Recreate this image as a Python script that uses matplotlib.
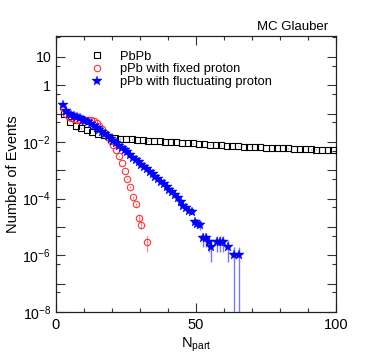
import numpy as np
import matplotlib
matplotlib.use("Agg")
import matplotlib.pyplot as plt
from matplotlib.lines import Line2D
from matplotlib.ticker import FixedLocator, FixedFormatter, NullFormatter

plt.rcParams['font.family'] = ['Liberation Sans', 'DejaVu Sans']
plt.rcParams['mathtext.fontset'] = 'custom'
plt.rcParams['mathtext.rm'] = 'Liberation Sans'
plt.rcParams['mathtext.it'] = 'Liberation Sans'

# ---------------- data ----------------
n_events = 1.0e6

pbpb_x = [3, 5, 7, 9, 11, 13, 15, 17, 19, 21, 23, 25, 27, 29, 31, 33, 35, 37, 39, 41,
          43, 45, 47, 49, 51, 53, 55, 57, 59, 61, 63, 65, 67, 69, 71, 73, 75, 77, 79, 81,
          83, 85, 87, 89, 91, 93, 95, 97, 99]
pbpb_y = [0.10, 0.049, 0.036, 0.030, 0.026, 0.022, 0.019, 0.017, 0.015, 0.014,
          0.0132, 0.0127, 0.0123, 0.0119, 0.0115, 0.0112, 0.0108, 0.0106, 0.0102, 0.0100,
          0.0097, 0.0094, 0.0091, 0.0089, 0.0087, 0.0084, 0.0081, 0.0079, 0.0076, 0.0073,
          0.0072, 0.0070, 0.0068, 0.0068, 0.0066, 0.0065, 0.0063, 0.0062, 0.0061, 0.0060,
          0.0059, 0.0058, 0.0056, 0.0056, 0.0055, 0.0054, 0.0053, 0.0052, 0.0051]

fixed_x = [2.5, 3.5, 4.5, 5.5, 6.5, 7.5, 8.5, 9.5, 10.5, 11.5, 12.5, 13.5, 14.5, 15.5,
           16.5, 17.5, 18.5, 19.5, 20.5, 21.5, 22.5, 23.5, 24.5, 25.5, 26.5, 27.5, 28.5,
           29.5, 30.5, 32.5]
fixed_y = [0.16, 0.095, 0.078, 0.068, 0.063, 0.060, 0.059, 0.059, 0.060, 0.060, 0.058,
           0.054, 0.047, 0.038, 0.028, 0.021, 0.015, 0.0107, 0.0076, 0.0051, 0.0031,
           0.0018, 9.5e-4, 5.1e-4, 2.6e-4, 1.1e-4, 6.3e-5, 2.1e-5, 1.2e-5, 3e-6]

fluct_x = [2.5, 3.5, 4.5, 5.5, 6.5, 7.5, 8.5, 9.5, 10.5, 11.5, 12.5, 13.5, 14.5, 15.5,
           16.5, 17.5, 18.5, 19.5, 20.5, 21.5, 22.5, 23.5, 24.5, 25.5, 26.5, 27.5, 28.5,
           29.5, 30.5, 31.5, 32.5, 33.5, 34.5, 35.5, 36.5, 37.5, 38.5, 39.5, 40.5, 41.5,
           42.5, 43.5, 44.5, 45.5, 46.5, 47.5, 48.5, 49.5, 50.5, 51.5, 52.5, 53.5, 54.5,
           55.5, 57.5, 58.5, 59.5, 61.5, 63.5, 65.5]
fluct_y = [0.195, 0.12, 0.10, 0.089, 0.081, 0.074, 0.068, 0.062, 0.055, 0.049, 0.044,
           0.038, 0.032, 0.027, 0.023, 0.019, 0.0158, 0.0129, 0.0107, 0.0089, 0.0074,
           0.0062, 0.0051, 0.0043, 0.0035, 0.0028, 0.0023, 0.0019, 0.0016, 0.0013,
           0.0011, 8.9e-4, 7.4e-4, 6.0e-4, 4.9e-4, 4.0e-4, 3.2e-4, 2.6e-4, 2.1e-4,
           1.66e-4, 1.32e-4, 1.05e-4, 7.9e-5, 5.6e-5, 4.7e-5, 3.8e-5, 3.4e-5, 1.5e-5,
           1.3e-5, 1.15e-5, 4e-6, 4e-6, 3e-6, 2e-6, 3e-6, 3e-6, 3e-6, 2e-6, 1e-6, 1e-6]

series_labels = ['PbPb', 'pPb with fixed proton', 'pPb with fluctuating proton']

xticks_major = [0, 50, 100]
xtick_labels = ["0", "50", "100"]
yticks_major = [1e-8, 1e-7, 1e-6, 1e-5, 1e-4, 1e-3, 1e-2, 1e-1, 1, 10]
ytick_labels = [r"$10^{-8}$", "", r"$10^{-6}$", "", r"$10^{-4}$", "", r"$10^{-2}$", "", "1", "10"]


def poisson_err(vals):
    v = np.asarray(vals)
    err = np.sqrt(v * n_events) / n_events
    lower = np.minimum(err, v - 1e-12)
    return np.vstack([lower, err])


# ---------------- figure ----------------
fig = plt.figure(figsize=(3.74, 3.59), dpi=100)
ax = fig.add_axes([56 / 374, 1 - 312 / 359, 280 / 374, 276 / 359])
ax.set_yscale('log')

sq_style = dict(marker='s', ms=4.2, mfc='none', mec='black', mew=0.8, ls='none')
ci_style = dict(marker='o', ms=4.6, mfc='none', mec='#ff3333', mew=0.8, ls='none')
st_style = dict(marker='*', ms=7, mfc='#0000ff', mec='#0000ff', mew=0.3, ls='none')

ax.errorbar(pbpb_x, pbpb_y, yerr=poisson_err(pbpb_y), ecolor='#888888',
            elinewidth=0.8, capsize=0, zorder=3, **sq_style)
ax.errorbar(fixed_x, fixed_y, yerr=poisson_err(fixed_y), ecolor='#ff8888',
            elinewidth=0.9, capsize=0, zorder=4, **ci_style)
ax.errorbar(fluct_x, fluct_y, yerr=poisson_err(fluct_y), ecolor='#7777ff',
            elinewidth=1.0, capsize=0, zorder=5, **st_style)

ax.set_xlim(0, 100)
ax.set_ylim(1e-8, 55)

ax.xaxis.set_major_locator(FixedLocator(xticks_major))
ax.xaxis.set_major_formatter(FixedFormatter(xtick_labels))
ax.xaxis.set_minor_locator(FixedLocator(list(range(0, 101, 10))))
ax.yaxis.set_major_locator(FixedLocator(yticks_major))
ax.yaxis.set_major_formatter(FixedFormatter(ytick_labels))
ax.yaxis.set_minor_locator(FixedLocator([5 * t for t in yticks_major[:-1]] + [50]))
ax.yaxis.set_minor_formatter(NullFormatter())

ax.tick_params(which='both', direction='in', top=True, right=True, labelsize=10.5,
               width=0.8, color='#333333')
ax.tick_params(which='major', length=6.5, pad=4)
ax.tick_params(axis='y', which='major', labelsize=10.2, pad=3.5)
ax.tick_params(which='minor', length=3)
for s in ax.spines.values():
    s.set_linewidth(0.9)
    s.set_color('#222222')

ax.set_xlabel(r"N$_{\mathregular{part}}$", fontsize=10.5, labelpad=3)
ax.set_ylabel("Number of Events", fontsize=10.5)
ax.yaxis.set_label_coords(-0.128, 0.5)

fig.text(328 / 374, 1 - 27 / 359, "MC Glauber", ha='right', va='center', fontsize=9.5)

handles = [Line2D([], [], **sq_style), Line2D([], [], **ci_style), Line2D([], [], **st_style)]
ax.legend(handles, series_labels, loc='upper left', bbox_to_anchor=(0.09, 0.975),
          frameon=False, fontsize=9.3, handlelength=1.2, handletextpad=1.2,
          labelspacing=0.05, borderaxespad=0.2)

fig.savefig("out.png", dpi=100)
